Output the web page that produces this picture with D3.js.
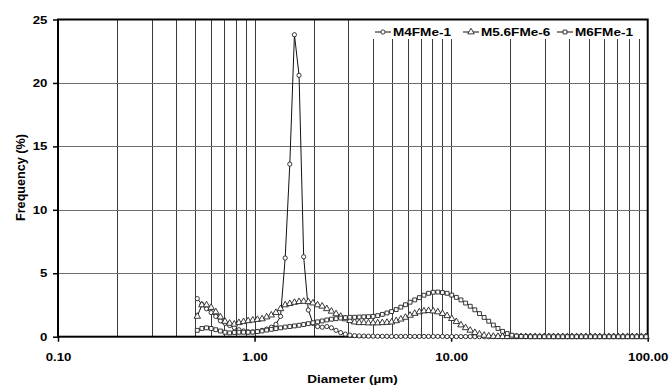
<!DOCTYPE html>
<html>
<head>
<meta charset="utf-8">
<script src="https://cdn.jsdelivr.net/npm/d3@7"></script>
<style>
  body { margin: 0; background: #fff; }
  text { font-family: 'Liberation Sans', Arial, sans-serif; font-weight: bold; fill: #000; }
</style>
</head>
<body>
<script>
// particle size classes (um)
const diameters = [
  0.5111, 0.5396, 0.5696, 0.6013, 0.6348, 0.6702, 0.7075, 0.7469, 0.7885, 0.8324,
  0.8788, 0.9277, 0.9794, 1.0339, 1.0915, 1.1523, 1.2164, 1.2842, 1.3557, 1.4312,
  1.5109, 1.5950, 1.6838, 1.7776, 1.8766, 1.9811, 2.0914, 2.2079, 2.3308, 2.4606,
  2.5976, 2.7423, 2.8950, 3.0562, 3.2264, 3.4061, 3.5958, 3.7960, 4.0074, 4.2306,
  4.4662, 4.7149, 4.9775, 5.2547, 5.5473, 5.8562, 6.1823, 6.5266, 6.8900, 7.2737,
  7.6788, 8.1064, 8.5578, 9.0344, 9.5375, 10.069, 10.629, 11.221, 11.846, 12.506,
  13.202, 13.937, 14.714, 15.533, 16.398, 17.311, 18.275, 19.293, 20.367, 21.501,
  22.699, 23.963, 25.297, 26.706, 28.193, 29.763, 31.421, 33.170, 35.017, 36.967,
  39.026, 41.199, 43.493, 45.915, 48.472, 51.171, 54.021, 57.029, 60.205, 63.557,
  67.097, 70.833, 74.778, 78.942, 83.338, 87.979, 92.878, 98.050
]

const seriesNames = ['M4FMe-1', 'M5.6FMe-6', 'M6FMe-1']

const m4FMe1 = [
  3.0, 2.55, 2.2, 1.9, 1.6, 1.25, 1.05, 0.88, 0.72, 0.55,
  0.45, 0.38, 0.38, 0.42, 0.5, 0.6, 0.75, 0.98, 1.6, 6.2,
  13.6, 23.8, 20.6, 6.3, 2.1, 1.05, 0.8, 0.75, 0.8, 0.7,
  0.5, 0.32, 0.2, 0.12, 0.08, 0.06, 0.05, 0.04, 0.04, 0.03,
  0.03, 0.03, 0.02, 0.02, 0.02, 0.02, 0.02, 0.02, 0.02, 0.02,
  0.02, 0.02, 0.02, 0.02, 0.01, 0.01, 0.01, 0.01, 0.01, 0.01,
  0, 0, 0, 0, 0, 0, 0, 0, 0, 0,
  0, 0, 0, 0, 0, 0, 0, 0, 0, 0,
  0, 0, 0, 0, 0, 0, 0, 0, 0, 0,
  0, 0, 0, 0, 0, 0, 0, 0
]

const m56FMe6 = [
  1.6, 2.5, 2.5, 2.3, 1.95, 1.55, 1.2, 1.05, 0.98, 1.1,
  1.18, 1.25, 1.3, 1.35, 1.4, 1.55, 1.7, 1.9, 2.2, 2.5,
  2.6, 2.7, 2.76, 2.78, 2.75, 2.65, 2.5, 2.4, 2.2, 2.0,
  1.8, 1.6, 1.4, 1.26, 1.15, 1.1, 1.1, 1.08, 1.08, 1.08,
  1.1, 1.12, 1.15, 1.25, 1.38, 1.52, 1.68, 1.83, 1.95, 2.02,
  2.05, 2.02, 1.95, 1.82, 1.65, 1.42, 1.18, 0.92, 0.7, 0.5,
  0.32, 0.2, 0.1, 0.05, 0.02, 0.01, 0, 0, 0, 0,
  0, 0, 0, 0, 0, 0, 0, 0, 0, 0,
  0, 0, 0, 0, 0, 0, 0, 0, 0, 0,
  0, 0, 0, 0, 0, 0, 0, 0
]

const m6FMe1 = [
  0.5, 0.65, 0.7, 0.65, 0.55, 0.45, 0.35, 0.3, 0.33, 0.35,
  0.35, 0.35, 0.36, 0.4, 0.45, 0.52, 0.58, 0.64, 0.7, 0.76,
  0.8, 0.85, 0.9, 0.96, 1.03, 1.1, 1.17, 1.24, 1.32, 1.38,
  1.42, 1.47, 1.5, 1.53, 1.53, 1.55, 1.57, 1.58, 1.6, 1.66,
  1.76, 1.87, 1.98, 2.14, 2.33, 2.52, 2.72, 2.9, 3.08, 3.27,
  3.42, 3.5, 3.52, 3.48, 3.42, 3.28, 3.1, 2.9, 2.65, 2.4,
  2.12, 1.82, 1.52, 1.22, 0.92, 0.65, 0.42, 0.25, 0.12, 0.05,
  0.02, 0.01, 0, 0, 0, 0, 0, 0, 0, 0,
  0, 0, 0, 0, 0, 0, 0, 0, 0, 0,
  0, 0, 0, 0, 0, 0, 0, 0
]

const xTickValues = [0.1, 1, 10, 100]
const yTickValues = [0, 5, 10, 15, 20, 25]

const stretch = 1.2 // the original picture is a bit wider than tall in its glyphs

const svg = d3.select('body').append('svg')
  .attr('width', 670)
  .attr('height', 386)

const x = d3.scaleLog().domain([0.1, 100]).range([58, 647.7])
const y = d3.scaleLinear().domain([0, 25]).range([336.7, 19.5])

// gridlines
svg.append('g')
  .selectAll('line')
  .data(x.ticks().filter(d => d > 0.1 && d < 100))
  .enter().append('line')
  .attr('x1', d => Math.round(x(d)) + 0.5)
  .attr('x2', d => Math.round(x(d)) + 0.5)
  .attr('y1', y(25))
  .attr('y2', y(0))
  .attr('stroke', '#3a3a3a')
  .attr('stroke-width', 1)

svg.append('g')
  .selectAll('line')
  .data(yTickValues.filter(d => d > 0 && d < 25))
  .enter().append('line')
  .attr('x1', x(0.1))
  .attr('x2', x(100))
  .attr('y1', d => Math.round(y(d)) + 0.5)
  .attr('y2', d => Math.round(y(d)) + 0.5)
  .attr('stroke', '#6e6e6e')
  .attr('stroke-width', 1)

// legend background hides the grid under it
svg.append('rect')
  .attr('x', 366)
  .attr('y', 20)
  .attr('width', 281)
  .attr('height', 19)
  .attr('fill', '#fff')

// axes
const yAxis = svg.append('g')
  .attr('transform', 'translate(' + x(0.1) + ',0)')
  .call(d3.axisLeft(y).tickValues(yTickValues).tickSize(5).tickFormat(d3.format('d')))
yAxis.select('.domain').remove()
yAxis.selectAll('line').attr('stroke', '#000').attr('stroke-width', 1.5)
yAxis.selectAll('text')
  .attr('font-size', 11)
  .attr('font-family', null)
  .attr('transform', 'scale(' + stretch + ',1)')
  .attr('x', -10.7 / stretch)

const xAxis = svg.append('g')
  .attr('transform', 'translate(0,' + y(0) + ')')
  .call(d3.axisBottom(x).tickValues(xTickValues).tickSize(5).tickPadding(11).tickFormat(d3.format('.2f')))
xAxis.select('.domain').remove()
xAxis.selectAll('line').attr('stroke', '#000').attr('stroke-width', 1.5)
xAxis.selectAll('text')
  .attr('font-size', 11)
  .attr('font-family', null)
  .attr('transform', 'scale(' + stretch + ',1)')

// plot frame
svg.append('rect')
  .attr('x', x(0.1))
  .attr('y', y(25))
  .attr('width', x(100) - x(0.1))
  .attr('height', y(0) - y(25))
  .attr('fill', 'none')
  .attr('stroke', '#000')
  .attr('stroke-width', 2)

// axis titles
svg.append('text')
  .attr('transform', 'translate(352.5,383.3) scale(1.23,1)')
  .attr('text-anchor', 'middle')
  .attr('font-size', 11)
  .text('Diameter (µm)')

svg.append('text')
  .attr('transform', 'translate(25,177.5) rotate(-90) scale(1.15,1.2)')
  .attr('text-anchor', 'middle')
  .attr('font-size', 11)
  .text('Frequency (%)')

// series
const series = [
  {name: seriesNames[0], values: m4FMe1, symbol: d3.symbolCircle, size: 14},
  {name: seriesNames[1], values: m56FMe6, symbol: d3.symbolTriangle, size: 18},
  {name: seriesNames[2], values: m6FMe1, symbol: d3.symbolSquare, size: 15}
]

const line = d3.line()
  .x((d, i) => x(diameters[i]))
  .y(d => y(d))

series.forEach(s => {
  const g = svg.append('g')
  g.append('path')
    .datum(s.values)
    .attr('d', line)
    .attr('fill', 'none')
    .attr('stroke', '#111')
    .attr('stroke-width', 1)

  g.selectAll('path.marker')
    .data(s.values)
    .enter().append('path')
    .attr('class', 'marker')
    .attr('transform', (d, i) => 'translate(' + x(diameters[i]) + ',' + y(d) + ')')
    .attr('d', d3.symbol().type(s.symbol).size(s.size))
    .attr('fill', '#fff')
    .attr('stroke', '#222')
    .attr('stroke-width', 0.9)
})

// legend
const legendX = [375, 463, 557]
const legend = svg.append('g')
series.forEach((s, i) => {
  const item = legend.append('g').attr('transform', 'translate(' + legendX[i] + ',32)')
  item.append('line')
    .attr('x1', 0)
    .attr('x2', 16)
    .attr('stroke', '#111')
    .attr('stroke-width', 1)
  item.append('path')
    .attr('transform', 'translate(8,0)')
    .attr('d', d3.symbol().type(s.symbol).size(s.size))
    .attr('fill', '#fff')
    .attr('stroke', '#222')
    .attr('stroke-width', 0.9)
  item.append('text')
    .attr('transform', 'translate(18,4) scale(' + stretch + ',1)')
    .attr('font-size', 11.3)
    .text(s.name)
})
</script>
</body>
</html>
